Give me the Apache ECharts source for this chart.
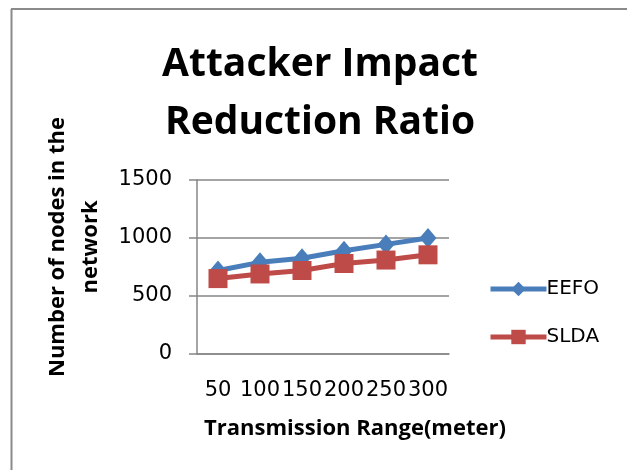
<!DOCTYPE html>
<html><head><meta charset="utf-8">
<script src="https://cdn.jsdelivr.net/npm/echarts@6/dist/echarts.min.js"></script>
<style>html,body{margin:0;padding:0;background:#fff}#c{width:627px;height:470px}</style>
</head><body><div id="c"></div>
<script>
var categories = ['50', '100', '150', '200', '250', '300'];
var eefo = [720, 790, 825, 890, 945, 1000];
var slda = [650, 690, 720, 780, 810, 855];
var yTicks = [0, 500, 1000, 1500];

var font = 'Open Sans';
var numFont = 'DejaVu Sans';
var chart = echarts.init(document.getElementById('c'), null, {renderer: 'canvas'});
chart.setOption({
  animation: false,
  backgroundColor: '#fff',
  title: {
    text: 'Attacker Impact\nReduction Ratio',
    left: 315, textAlign: 'center', top: 31,
    textStyle: {fontFamily: font, fontWeight: 'bold', fontSize: 39, lineHeight: 58, color: '#000'}
  },
  legend: {
    orient: 'vertical', left: 483, top: 274, itemWidth: 56, itemHeight: 18, itemGap: 28,
    lineStyle: {width: 5},
    textStyle: {fontFamily: numFont, fontSize: 20, color: '#000', padding: [0, 0, 0, -5]},
    data: ['EEFO', 'SLDA']
  },
  grid: {left: 197, right: 178, top: 180, bottom: 116, containLabel: false},
  xAxis: {
    type: 'category', data: categories, boundaryGap: true,
    axisLine: {lineStyle: {color: '#868686', width: 1.5}},
    axisTick: {show: false},
    axisLabel: {interval: 0, hideOverlap: false, fontFamily: numFont, fontSize: 21, color: '#000', margin: 26}
  },
  yAxis: {
    type: 'value', min: yTicks[0], max: yTicks[yTicks.length - 1], interval: 500,
    axisLine: {show: true, lineStyle: {color: '#868686', width: 1.5}},
    axisTick: {show: true, length: 8, lineStyle: {color: '#868686', width: 1.5}},
    splitLine: {lineStyle: {color: '#868686', width: 1.5}},
    axisLabel: {fontFamily: numFont, fontSize: 21, color: '#000', margin: 25, formatter: function (v) { return String(v); }}
  },
  series: [
    {name: 'EEFO', type: 'line', data: eefo, symbol: 'diamond', symbolSize: [17, 20],
     lineStyle: {color: '#4A7EBB', width: 5}, itemStyle: {color: '#4A7EBB'}},
    {name: 'SLDA', type: 'line', data: slda, symbol: 'rect', symbolSize: 19,
     lineStyle: {color: '#BE4B48', width: 5}, itemStyle: {color: '#BE4B48'}}
  ],
  graphic: [
    {type: 'line', shape: {x1: 11.5, y1: 9, x2: 11.5, y2: 470}, style: {stroke: '#8a8a8a', lineWidth: 2}},
    {type: 'line', shape: {x1: 11, y1: 9, x2: 627, y2: 9}, style: {stroke: '#8a8a8a', lineWidth: 2}},
    {type: 'text', x: 74, y: 247, rotation: Math.PI / 2,
     style: {text: 'Number of nodes in the\nnetwork', fontFamily: font, fontWeight: 'bold', fontSize: 22,
             lineHeight: 33, fill: '#000', align: 'center', verticalAlign: 'middle'}},
    {type: 'text', x: 355, y: 429,
     style: {text: 'Transmission Range(meter)', fontFamily: font, fontWeight: 'bold', fontSize: 22,
             fill: '#000', align: 'center', verticalAlign: 'middle'}}
  ]
});
</script></body></html>
